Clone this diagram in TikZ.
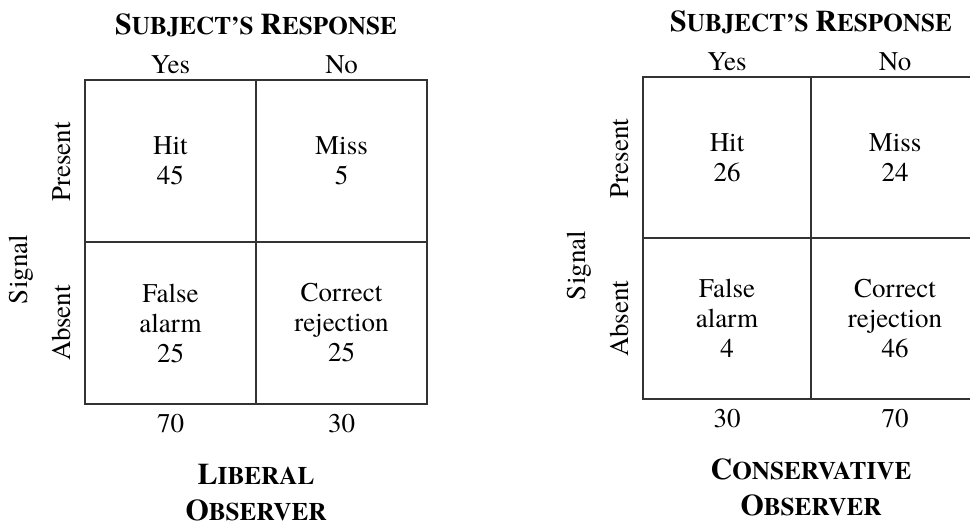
\documentclass[tikz,border=0pt]{standalone}
\usepackage{fontspec}
\setmainfont{texgyretermes}[Extension=.otf, UprightFont=*-regular, BoldFont=*-bold]
\usetikzlibrary{positioning}
% bold caps with a larger first letter
\newcommand{\fakesc}[2]{{\bfseries\fontsize{15}{18}\selectfont #1\fontsize{12.6}{15}\selectfont #2}}

\begin{document}
\begin{tikzpicture}[x=0.5pt,y=0.5pt]
    \tikzstyle{every node}=[font=\fontsize{13.5}{15}\selectfont, inner sep=0pt]
    \tikzstyle{cell}=[draw=black!80, line width=0.9pt, outer sep=0pt, align=center]
    \tikzstyle{side}=[rotate=90, anchor=base]
    \tikzstyle{lbl}=[anchor=base]

    \useasboundingbox (0,0) rectangle (970,-524);

    % one table for each observer
    \foreach \tb/\ox/\oy/\w/\h/\vh/\vm/\vf/\vc/\ty/\tn/\obsa/\obsb in {
        L/85/80/171/162/45/5/25/25/70/30/L/IBERAL,
        R/643/77/168/161/26/24/4/46/30/70/C/ONSERVATIVE}
    {
        % the four cells
        \tikzset{cell/.append style={minimum width=\w*0.5pt, minimum height=\h*0.5pt}}
        \node[cell] (\tb-hit) at ({\ox+\w/2},{-\oy-\h/2}) {Hit\\\vh};
        \node[cell, right=0pt of \tb-hit] (\tb-miss) {Miss\\\vm};
        \node[cell, below=0pt of \tb-hit] (\tb-fa) {False\\alarm\\\vf};
        \node[cell, right=0pt of \tb-fa] (\tb-cr) {Correct\\rejection\\\vc};

        % response heads
        \node[lbl] (\tb-title) at ({\ox+\w},{-\oy+45}) {\fakesc{S}{UBJECT’S} \fakesc{R}{ESPONSE}};
        \node[lbl] (\tb-yes) at ({\ox+\w/2},{-\oy+6.5}) {Yes};
        \node[lbl] (\tb-no) at ({\ox+1.5*\w},{-\oy+6.5}) {No};

        % signal heads
        \node[side] (\tb-pres) at ({\ox-15},{-\oy-\h/2-1}) {Present};
        \node[side] (\tb-abs) at ({\ox-15},{-\oy-1.5*\h}) {Absent};
        \node[side] (\tb-sig) at ({\ox-58},{-\oy-\h-27.5}) {Signal};

        % column totals and name
        \node[lbl] (\tb-sumy) at ({\ox+\w/2},{-\oy-2*\h-28}) {\ty};
        \node[lbl] (\tb-sumn) at ({\ox+1.5*\w},{-\oy-2*\h-28}) {\tn};
        \node[lbl] (\tb-obs) at ({\ox+\w},{-\oy-2*\h-80}) {\fakesc{\obsa}{\obsb}};
        \node[lbl] (\tb-obs2) at ({\ox+\w},{-\oy-2*\h-116}) {\fakesc{O}{BSERVER}};
    }
\end{tikzpicture}
\end{document}
